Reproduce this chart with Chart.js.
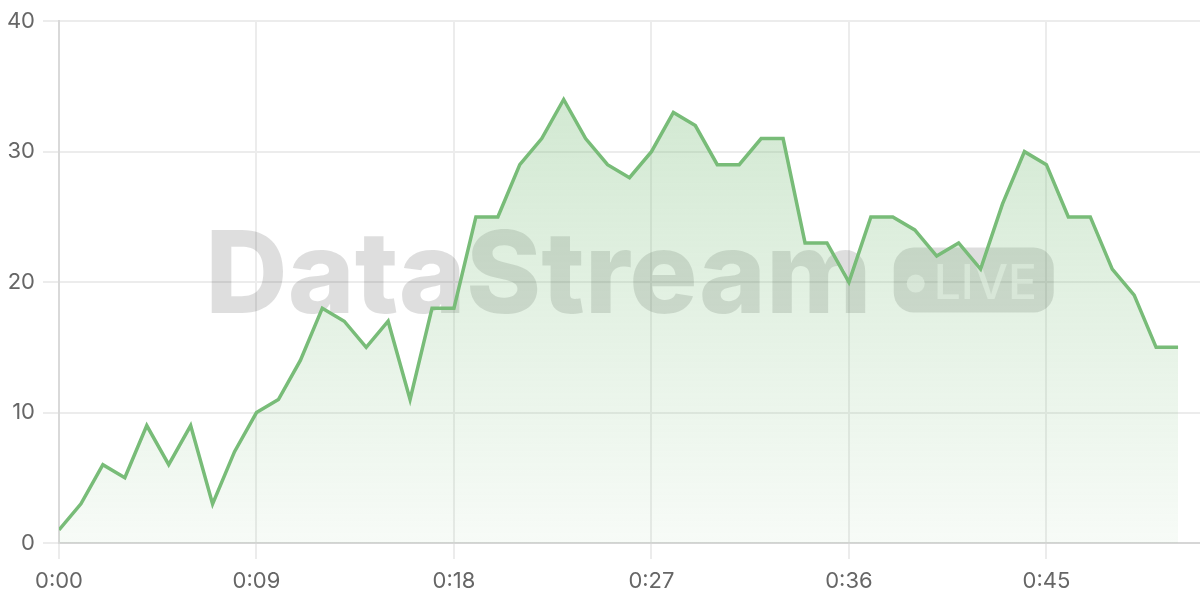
<!DOCTYPE html>
<html>
<head>
<meta charset="utf-8">
<script src="https://cdn.jsdelivr.net/npm/chart.js@4.4.0/dist/chart.umd.min.js"></script>
<style>
  html, body { margin: 0; padding: 0; background: #fff; }
  #wrap { width: 1200px; height: 600px; }
</style>
</head>
<body>
<div id="wrap"><canvas id="chart"></canvas></div>
<script>
// seconds since start, and the reading at each second
const seconds = [0, 1, 2, 3, 4, 5, 6, 7, 8, 9, 10, 11, 12, 13, 14, 15, 16, 17, 18, 19, 20, 21, 22, 23, 24, 25,
    26, 27, 28, 29, 30, 31, 32, 33, 34, 35, 36, 37, 38, 39, 40, 41, 42, 43, 44, 45, 46, 47, 48, 49, 50, 51];
const values = [1, 3, 6, 5, 9, 6, 9, 3, 7, 10, 11, 14, 18, 17, 15, 17, 11, 18, 18, 25, 25, 29, 31, 34, 31, 29,
    28, 30, 33, 32, 29, 29, 31, 31, 23, 23, 20, 25, 25, 24, 22, 23, 21, 26, 30, 29, 25, 25, 21, 19, 15, 15];
const xTicks = [0, 9, 18, 27, 36, 45];
const yTicks = [0, 10, 20, 30, 40];

const fmtTime = (s) => Math.floor(s / 60) + ':' + String(s % 60).padStart(2, '0');

const watermark = {
    id: 'watermark',
    beforeDatasetsDraw(chart) {
        const { ctx, chartArea } = chart;
        const cx = (chartArea.left + chartArea.right) / 2;
        const cy = (chartArea.top + chartArea.bottom) / 2;
        ctx.save();
        ctx.font = '800 114px Inter';
        const tw = ctx.measureText('DataStream').width;
        const bw = 160, bh = 65, gap = 22;
        const x0 = cx - (tw + gap + bw) / 2;
        ctx.fillStyle = 'rgba(0,0,0,0.13)';
        ctx.textBaseline = 'alphabetic';
        ctx.fillText('DataStream', x0, cy + 31);
        // badge
        const bx = x0 + tw + gap, by = cy - bh / 2 - 2;
        ctx.beginPath();
        ctx.roundRect(bx, by, bw, bh, 20);
        ctx.fill();
        ctx.fillStyle = 'rgba(255,255,255,0.6)';
        ctx.beginPath();
        ctx.arc(bx + 22, by + 36, 9, 0, Math.PI * 2);
        ctx.fill();
        ctx.font = '500 48px Inter';
        ctx.fillText('LIVE', bx + 40, by + 51);
        ctx.restore();
    }
};

new Chart(document.getElementById('chart'), {
    type: 'line',
    data: {
        datasets: [{
            data: seconds.map((s, i) => ({ x: s, y: values[i] })),
            borderColor: '#78bc78',
            borderWidth: 3.5,
            pointRadius: 0,
            tension: 0,
            fill: 'origin',
            backgroundColor: (c) => {
                const area = c.chart.chartArea;
                if (!area) return 'rgba(120,188,120,0.2)';
                const g = c.chart.ctx.createLinearGradient(0, area.top, 0, area.bottom);
                g.addColorStop(0, 'rgba(120,188,120,0.38)');
                g.addColorStop(1, 'rgba(120,188,120,0.06)');
                return g;
            }
        }]
    },
    options: {
        responsive: true,
        maintainAspectRatio: false,
        animation: false,
        layout: { padding: { top: 20, right: 0, left: 0, bottom: 0 } },
        plugins: { legend: { display: false }, tooltip: { enabled: false } },
        scales: {
            x: {
                type: 'linear',
                min: 0,
                max: 52,
                afterBuildTicks: (scale) => { scale.ticks = xTicks.map(v => ({ value: v })); },
                afterFit: (scale) => { scale.height = 57; },
                grid: { color: '#ececec', lineWidth: 2, tickLength: 16 },
                border: { color: '#d6d6d6', width: 2 },
                ticks: {
                    color: '#666',
                    font: { family: 'Inter', size: 22 },
                    padding: 9,
                    maxRotation: 0,
                    callback: (v) => fmtTime(v)
                }
            },
            y: {
                min: 0,
                max: 40,
                afterBuildTicks: (scale) => { scale.ticks = yTicks.map(v => ({ value: v })); },
                afterFit: (scale) => { scale.width = 59; },
                grid: { color: '#ececec', lineWidth: 2, tickLength: 16 },
                border: { color: '#d9d9d9', width: 2 },
                ticks: {
                    color: '#666',
                    font: { family: 'Inter', size: 22 },
                    padding: 8
                }
            }
        }
    },
    plugins: [watermark]
});
</script>
</body>
</html>
